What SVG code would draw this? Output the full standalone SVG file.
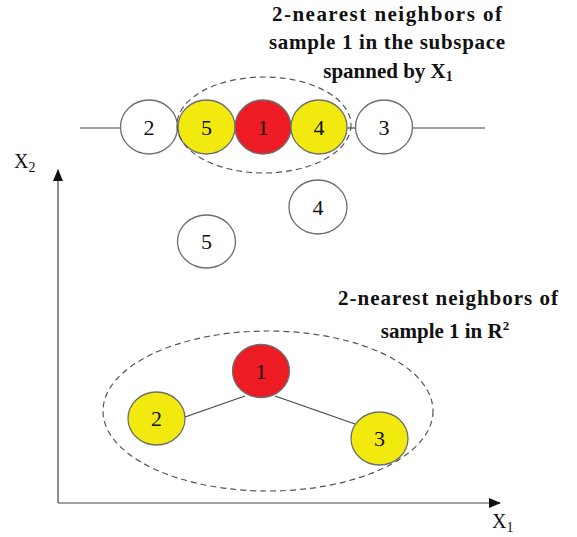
<svg xmlns="http://www.w3.org/2000/svg" width="577" height="537" viewBox="0 0 577 537">
<style>
.n{stroke:#6e6e6e;stroke-width:1.3}
.w{fill:#fff}
.r{fill:#ed1c24}
.y{fill:#f2ea0f}
.num{font-family:"Liberation Serif","DejaVu Serif",serif;font-size:22px;fill:#111;text-anchor:middle}
.ttl{font-family:"Liberation Serif","DejaVu Serif",serif;font-size:21px;font-weight:bold;fill:#111;text-anchor:middle}
.ax{font-family:"Liberation Serif","DejaVu Serif",serif;font-size:20px;fill:#111}
.line{stroke:#444;stroke-width:1.2;fill:none}
.dash{stroke:#555;stroke-width:1.2;fill:none;stroke-dasharray:6 4}
</style>
<defs>
<marker id="ah" markerWidth="12" markerHeight="10" refX="11" refY="5" orient="auto" markerUnits="userSpaceOnUse">
<path d="M0,0 L12,5 L0,10 z" fill="#111"/>
</marker>
</defs>
<g id="connectors">
<line class="line" x1="80" y1="128" x2="121" y2="128"/>
<line class="line" x1="347" y1="128" x2="356" y2="128"/>
<line class="line" x1="412" y1="128" x2="485" y2="128"/>
<line class="line" x1="58" y1="503" x2="58" y2="170" marker-end="url(#ah)"/>
<line class="line" x1="58" y1="503" x2="500" y2="503" marker-end="url(#ah)"/>
<line class="line" x1="185" y1="417" x2="245" y2="396"/>
<line class="line" x1="275" y1="396" x2="355" y2="424"/>
</g>
<g id="top-row">
<g id="t2"><ellipse class="n w" cx="149" cy="127" rx="28.5" ry="27"/><text class="num" x="149" y="134.5">2</text></g>
<g id="t5"><ellipse class="n y" cx="206.5" cy="127" rx="28.5" ry="27"/><text class="num" x="206.5" y="134.5">5</text></g>
<g id="t1"><ellipse class="n r" cx="263" cy="127" rx="28" ry="27"/><text class="num" x="263" y="134.5">1</text></g>
<g id="t4"><ellipse class="n y" cx="319" cy="127" rx="28" ry="27"/><text class="num" x="319" y="134.5">4</text></g>
<g id="t3"><ellipse class="n w" cx="384" cy="127" rx="28.5" ry="27"/><text class="num" x="384" y="134.5">3</text></g>
</g>
<ellipse id="top-group" class="dash" cx="264" cy="125" rx="87" ry="48"/>
<g id="p4"><ellipse class="n w" cx="318" cy="207" rx="29" ry="27"/><text class="num" x="318" y="214.5">4</text></g>
<g id="p5"><ellipse class="n w" cx="206.5" cy="241.5" rx="29" ry="26.5"/><text class="num" x="206.5" y="249">5</text></g>
<ellipse id="bottom-group" class="dash" cx="268" cy="411" rx="165" ry="80"/>
<g id="b1"><ellipse class="n r" cx="261" cy="371" rx="28.5" ry="26.5"/><text class="num" x="261" y="378.5">1</text></g>
<g id="b2"><ellipse class="n y" cx="156.5" cy="418.5" rx="28.5" ry="26.5"/><text class="num" x="156.5" y="426">2</text></g>
<g id="b3"><ellipse class="n y" cx="379.5" cy="438.5" rx="28.5" ry="26.5"/><text class="num" x="379.5" y="446">3</text></g>
<g id="labels">
<text class="ttl" x="387" y="21" textLength="230" lengthAdjust="spacing">2-nearest neighbors of</text>
<text class="ttl" x="387" y="49" textLength="236" lengthAdjust="spacing">sample 1 in the subspace</text>
<text class="ttl" x="388" y="78">spanned by X<tspan font-size="14" dy="3">1</tspan></text>
<text class="ttl" x="448" y="305" textLength="220" lengthAdjust="spacing">2-nearest neighbors of</text>
<text class="ttl" x="445" y="338">sample 1 in R<tspan font-size="13" dy="-8">2</tspan></text>
<text class="ax" x="14" y="168">X<tspan font-size="14" dy="4">2</tspan></text>
<text class="ax" x="492" y="528">X<tspan font-size="14" dy="4">1</tspan></text>
</g>
</svg>
